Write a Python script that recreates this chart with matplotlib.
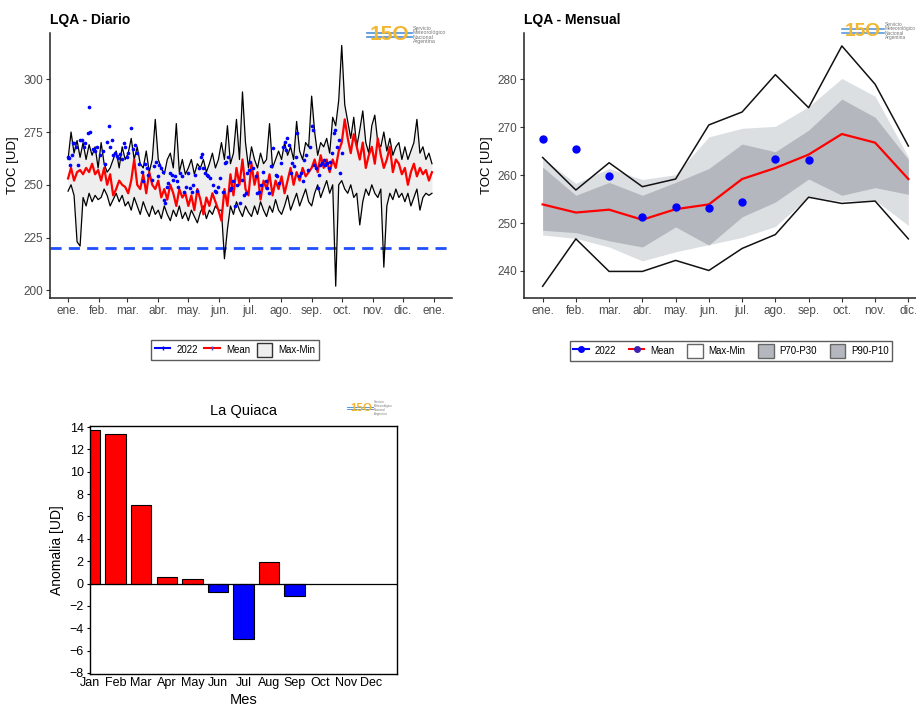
import numpy as np
import pandas as pd
import matplotlib
matplotlib.use('Agg')
import matplotlib.pyplot as plt
from matplotlib.lines import Line2D
from matplotlib.patches import Patch

plt.rcParams['font.family'] = ['Liberation Sans', 'DejaVu Sans']

# ---- daily panel (one value every 3 days, starting 1 Jan 2022) ----
daily_max = [262, 275, 265, 271, 263, 270, 262, 269, 264, 268, 258,
             270, 260, 256, 258, 262, 266, 258, 268, 262,
             265, 272, 262, 268, 260, 258, 266, 256, 262, 281,
             262, 258, 255, 262, 265, 258, 279, 256, 262, 255,
             258, 262, 255, 260, 258, 262, 256, 260, 265, 258, 262,
             270, 262, 278, 260, 265, 281, 262, 294, 270, 258,
             268, 262, 258, 265, 260, 262, 279, 258, 262, 266,
             262, 270, 264, 268, 262, 280, 266, 262, 270, 268,
             292, 275, 264, 270, 268, 272, 265, 282, 278, 290,
             316, 288, 280, 272, 282, 268, 276, 285, 270, 265, 278,
             283, 270, 268, 275, 266, 272, 264, 268, 270, 262,
             268, 262, 266, 270, 281, 265, 268, 262, 265, 260]
daily_min = [247, 250, 245, 223, 221, 244, 240, 246, 242, 245, 243,
             244, 248, 245, 240, 243, 246, 242, 245, 240,
             242, 238, 244, 240, 236, 242, 238, 235, 240, 236,
             238, 234, 240, 236, 233, 238, 235, 240, 234, 237,
             233, 238, 235, 232, 237, 240, 234, 238, 236, 240, 238,
             238, 215, 229, 240, 236, 242, 238, 235, 240, 237,
             235, 240, 236, 242, 238, 235, 240, 237, 243, 238,
             236, 240, 245, 238, 242, 246, 240, 244, 248, 242,
             240, 246, 250, 244, 248, 252, 246, 250, 202, 250,
             252, 248, 246, 250, 244, 246, 231, 242, 248, 245, 250,
             246, 244, 248, 211, 240, 246, 243, 248, 244, 246,
             242, 246, 240, 244, 248, 238, 244, 246, 245, 246]
daily_mean = [253, 258, 252, 256, 257, 255, 258, 256, 260, 255, 257,
              252, 258, 250, 255, 245, 248, 252, 250, 249,
              246, 252, 262, 250, 248, 255, 246, 256, 250, 248,
              252, 244, 248, 243, 250, 246, 240, 248, 244, 246,
              240, 245, 238, 248, 243, 236, 244, 240, 246, 242, 238,
              233, 248, 240, 255, 245, 258, 250, 262, 248, 245,
              260, 250, 256, 243, 252, 248, 255, 245, 252, 248,
              254, 246, 252, 258, 250, 256, 252, 258, 254, 256,
              258, 262, 256, 264, 258, 262, 256, 262, 258, 266,
              270, 281, 272, 265, 274, 268, 262, 270, 258, 264, 268,
              260, 272, 264, 258, 262, 268, 256, 262, 260, 255,
              258, 250, 256, 260, 254, 258, 255, 257, 252, 256]

# 2022 daily observations (day of year, value)
obs_day = [0, 1, 2, 4, 5, 6, 8, 10, 12, 14, 16, 17, 20, 21, 22, 25, 27, 29,
           32, 35, 37, 39, 41, 42, 44, 45, 47, 49, 50, 52, 54, 56, 57,
           59, 60, 63, 65, 67, 69, 71, 74, 75, 77, 79, 80, 84, 86, 88,
           90, 91, 93, 95, 96, 97, 99, 100, 102, 104, 105, 107, 109, 110, 112, 114, 116, 118, 120,
           122, 124, 125, 127, 129, 131, 133, 134, 135, 137, 139, 140, 142, 145, 147, 148, 150,
           152, 155, 157, 158, 160, 162, 163, 165, 167, 169, 172, 174, 176, 178, 179,
           181, 182, 184, 187, 188, 190, 192, 194, 197, 198, 200, 202, 204, 207, 208, 210,
           212, 214, 216, 217, 218, 220, 222, 223, 225, 227, 228, 230, 232, 234, 235, 237, 239, 241, 243, 244,
           245, 247, 249, 250, 251, 253, 255, 256, 258, 260, 261, 263, 265, 266, 268, 270, 271, 273]
obs_val = [263.4, 262.6, 259.5, 264, 270, 270, 268, 259.5, 271, 271, 268, 270, 274.5, 287, 275, 267, 266, 268,
           264, 266, 260, 270.5, 278, 268, 271, 264, 265, 263.5, 262.6, 264.7, 262, 270, 268,
           263.4, 265, 277, 267, 269, 265, 260, 256, 252, 260, 258, 254.7, 252.4, 258.7, 261,
           254, 259.5, 258, 256, 243, 241.3, 249, 250.8, 255.5, 254.7, 252.4, 254, 251.6, 249.2, 255.5, 254, 246.4, 249.2, 255.5,
           248.4, 246.8, 250, 254.7, 247.3, 258, 263.4, 264.7, 258, 255.5, 254.7, 254, 253, 250, 247.3, 246.8, 248.9,
           253, 246.8, 260.3, 261, 263.4, 247.6, 248.4, 251.6, 240, 250, 241.3, 252.4, 245.3, 246, 255.5,
           257, 261, 258, 254, 246, 246.8, 250, 256.3, 251.6, 248.4, 246, 258.7, 267.4, 254.7, 254, 251,
           260.3, 267.8, 270.5, 266.6, 272.4, 269, 255.5, 260.3, 258.7, 263.4, 274.5, 254, 255.5, 251.6, 261.8, 264.2, 257, 268, 278, 276,
           259.5, 258, 248.4, 254.7, 259.5, 260.3, 261.8, 259.5, 260.3, 258, 261, 265, 274.5, 276, 268, 271.3, 255.5, 265]

# ---- monthly panel ----
months_es = ['ene.', 'feb.', 'mar.', 'abr.', 'may.', 'jun.', 'jul.', 'ago.', 'sep.', 'oct.', 'nov.', 'dic.']
mon_max = [263.7, 256.9, 262.6, 257.6, 259.2, 270.5, 273.2, 281.0, 274.1, 287.0, 279.0, 266.1]
mon_min = [236.8, 246.7, 239.9, 239.9, 242.2, 240.1, 244.7, 247.6, 255.4, 254.1, 254.6, 246.7]
mon_mean = [253.9, 252.2, 252.8, 250.7, 252.9, 253.9, 259.2, 261.5, 264.3, 268.6, 266.8, 259.2]
p90 = [263.5, 258.3, 261.4, 259.1, 260.1, 268.0, 269.8, 270.2, 274.3, 280.2, 276.5, 263.8]
p10 = [247.5, 246.8, 245.0, 242.1, 244.0, 245.5, 247.0, 249.3, 255.5, 254.6, 254.8, 249.5]
p70 = [261.7, 255.8, 258.5, 255.8, 258.5, 261.4, 266.5, 264.9, 269.4, 275.9, 272.1, 263.3]
p30 = [248.5, 248.0, 246.3, 245.0, 249.2, 245.4, 251.3, 254.4, 259.2, 255.8, 257.4, 256.0]
mon_2022 = [267.5, 265.5, 259.9, 251.2, 253.4, 253.1, 254.3, 263.3, 263.1]

# ---- anomaly panel ----
months_en = ['Jan', 'Feb', 'Mar', 'Apr', 'May', 'Jun', 'Jul', 'Aug', 'Sep', 'Oct', 'Nov', 'Dec']
anomaly = [13.7, 13.35, 7.05, 0.55, 0.38, -0.8, -5.0, 1.95, -1.15]

W, H = 916, 709
fig = plt.figure(figsize=(W / 100, H / 100), dpi=100)


def px_axes(l, t, r, b):
    return fig.add_axes([l / W, 1 - b / H, (r - l) / W, (b - t) / H])


def style_gg(ax):
    for s in ['top', 'right']:
        ax.spines[s].set_visible(False)
    for s in ['left', 'bottom']:
        ax.spines[s].set_linewidth(1.1)
        ax.spines[s].set_color('#222222')
    ax.tick_params(colors='#333333', labelcolor='#4d4d4d', labelsize=8.5, length=3, width=0.8, pad=2)


def logo(x, y, scale=1.0):
    fig.text(x / W, 1 - y / H, '15O', color='#f2b630', fontsize=15 * scale,
             fontweight='bold', va='center', ha='left')
    for dy in (-2, 2):
        fig.add_artist(Line2D([(x - 3) / W, (x + 42 * scale) / W],
                              [1 - (y + dy * scale) / H] * 2,
                              color='#4a90d9', lw=1.2 * scale))
    fig.text((x + 43 * scale) / W, 1 - y / H,
             'Servicio\nMeteorológico\nNacional\nArgentina',
             color='#777777', fontsize=3.8 * scale, va='center', ha='left', linespacing=0.9)


# ================= daily =================
ax1 = px_axes(50, 33, 452, 298)
start = pd.Timestamp('2022-01-01')
dates = pd.date_range(start, periods=len(daily_max), freq='3D')
obs_dates = start + pd.to_timedelta(obs_day, unit='D')

ax1.fill_between(dates, daily_min, daily_max, color='#eeeeee', lw=0)
ax1.axhline(220, color='#1f4fff', lw=2, ls=(0, (4, 2.6)), zorder=1)
ax1.plot(dates, daily_max, color='black', lw=0.9, zorder=2)
ax1.plot(dates, daily_min, color='black', lw=0.9, zorder=2)
ax1.plot(dates, daily_mean, color='red', lw=1.6, zorder=3)
ax1.scatter(obs_dates, obs_val, color='blue', s=7, zorder=4, lw=0)

ax1.set_xlim(start - pd.Timedelta(days=18), start + pd.Timedelta(days=383))
ax1.set_ylim(196.4, 321.9)
ax1.set_yticks([200, 225, 250, 275, 300])
tick_dates = pd.date_range('2022-01-01', '2023-01-01', freq='MS')
ax1.set_xticks(tick_dates)
ax1.set_xticklabels(months_es + ['ene.'])
style_gg(ax1)
ax1.set_ylabel('TOC [UD]', fontsize=9.5, labelpad=3)
fig.text(50 / W, 1 - 20 / H, 'LQA - Diario', fontsize=10, fontweight='bold', va='center')
logo(370, 35)

leg_kw = dict(loc='center', frameon=True, fancybox=False, edgecolor='#333333',
              fontsize=7, handlelength=1.6, handleheight=1.7, handletextpad=0.6,
              borderpad=0.35)
h1 = [Line2D([], [], color='blue', lw=1.5, marker='|', ms=3),
      Line2D([], [], color='red', lw=1.5, marker='|', ms=3, mec='#5050c0'),
      Patch(facecolor='#eeeeee', edgecolor='#333333')]
fig.legend(h1, ['2022', 'Mean', 'Max-Min'], bbox_to_anchor=(235 / W, 1 - 350 / H),
           ncol=3, columnspacing=0.7, **leg_kw)

# ================= monthly =================
ax2 = px_axes(524, 33, 916, 298)
mx = np.arange(len(months_es))
ax2.fill_between(mx, p10, p90, color='#dcdfe2', lw=0)
ax2.fill_between(mx, p30, p70, color='#b4b7bd', lw=0)
ax2.plot(mx, mon_max, color='#111111', lw=1.1)
ax2.plot(mx, mon_min, color='#111111', lw=1.1)
ax2.plot(mx, mon_mean, color='red', lw=1.6)
ax2.plot(np.arange(len(mon_2022)), mon_2022, 'o', color='blue', ms=5)
ax2.set_xlim(-0.56, 11.23)
ax2.set_ylim(234.35, 289.7)
ax2.set_yticks([240, 250, 260, 270, 280])
ax2.set_xticks(mx)
ax2.set_xticklabels(months_es)
style_gg(ax2)
ax2.set_ylabel('TOC [UD]', fontsize=9.5, labelpad=3)
fig.text(524 / W, 1 - 20 / H, 'LQA - Mensual', fontsize=10, fontweight='bold', va='center')
logo(845, 31, scale=0.92)

h2 = [Line2D([], [], color='blue', lw=1.5, marker='o', ms=4),
      Line2D([], [], color='red', lw=1.5, marker='o', ms=4, mfc='#4020b0', mec='#4020b0'),
      Patch(facecolor='white', edgecolor='#666666'),
      Patch(facecolor='#b4b7bd', edgecolor='#666666'),
      Patch(facecolor='#b4b7bd', edgecolor='#666666')]
fig.legend(h2, ['2022', 'Mean', 'Max-Min', 'P70-P30', 'P90-P10'],
           bbox_to_anchor=(731 / W, 1 - 351 / H), ncol=5, columnspacing=1.3, **leg_kw)

# ================= anomalies =================
ax3 = px_axes(90, 426, 397, 674)
pos = np.arange(len(anomaly))
colors = ['red' if v > 0 else 'blue' for v in anomaly]
ax3.bar(pos, anomaly, width=0.8, color=colors, edgecolor='black', lw=0.8, zorder=2)
ax3.axhline(0, color='black', lw=0.9, zorder=3)
ax3.set_xlim(0, 12)
ax3.set_ylim(-8.1, 14.1)
ax3.set_yticks(np.arange(-8, 15, 2))
ax3.set_xticks(np.arange(12))
ax3.set_xticklabels(months_en)
for s in ax3.spines.values():
    s.set_linewidth(1.0)
ax3.tick_params(axis='both', labelsize=9, length=2.5, width=0.8, pad=2)
ax3.tick_params(axis='x', length=0)
ax3.set_title('La Quiaca', fontsize=10.5, pad=8)
ax3.set_xlabel('Mes', fontsize=10.5, labelpad=3)
ax3.set_ylabel('Anomalia [UD]', fontsize=10, labelpad=4)
logo(350, 408, scale=0.55)

fig.savefig('out.png', dpi=100)
